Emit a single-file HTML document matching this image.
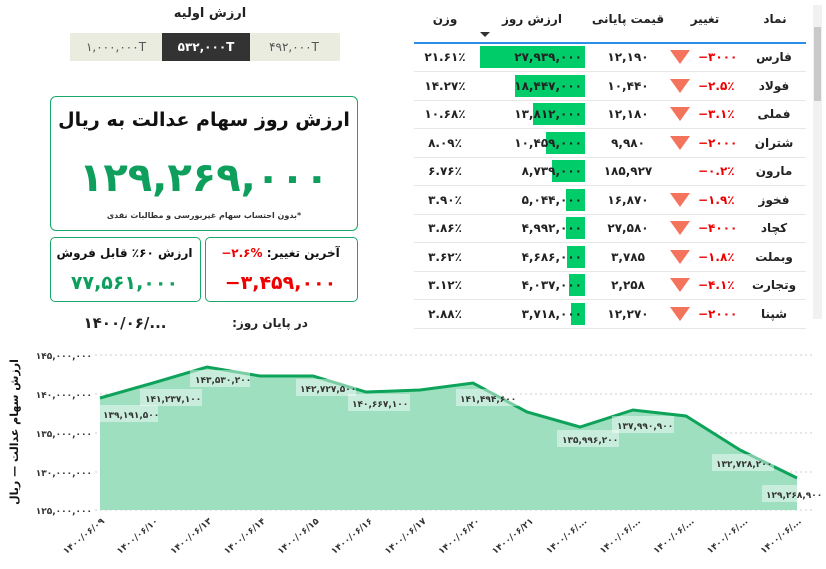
<!DOCTYPE html><html><head><meta charset="utf-8"><style>
body{margin:0;width:826px;height:569px;background:#fff;font-family:"DejaVu Sans","Liberation Sans",sans-serif;position:relative;overflow:hidden;direction:rtl}
.a{position:absolute}
.t{font-weight:bold;font-size:12px;color:#222;text-align:center;white-space:nowrap}
.row{position:absolute;left:414px;width:392px;height:28px;border-bottom:1px solid #e6e6e6;direction:ltr}
.row div{position:absolute;top:0;height:28px;line-height:28px;font-size:12px;font-weight:bold;text-align:center;color:#222}
.tri{width:0;height:0;border-left:10px solid transparent;border-right:10px solid transparent;border-top:14px solid #f4735d;position:absolute;top:7px!important;height:0!important}
svg{direction:ltr}
</style></head><body>
<div class="a t" style="left:160px;top:6px;width:100px;font-size:13px">ارزش اولیه</div>
<div class="a" style="left:70px;top:33px;width:270px;height:28px;background:#e9ecdf"></div>
<div class="a" style="left:162px;top:33px;width:88px;height:28px;background:#333;color:#fff;font-size:12px;font-weight:bold;line-height:28px;text-align:center">۵۳۲,۰۰۰T</div>
<div class="a" style="left:72px;top:33px;width:88px;line-height:28px;font-size:12px;color:#555;text-align:center">۱,۰۰۰,۰۰۰T</div>
<div class="a" style="left:250px;top:33px;width:88px;line-height:28px;font-size:12px;color:#555;text-align:center">۴۹۲,۰۰۰T</div>
<div class="a" style="left:50px;top:96px;width:306px;height:133px;border:1px solid #1aa86a;border-radius:6px"></div>
<div class="a t" style="left:50px;top:109px;width:308px;font-size:19px;color:#111">ارزش روز سهام عدالت به ریال</div>
<div class="a t" style="left:50px;top:148px;width:308px;font-size:40px;color:#0e9f5c;line-height:60px">۱۲۹,۲۶۹,۰۰۰</div>
<div class="a t" style="left:50px;top:211px;width:308px;font-size:8px;color:#333">*بدون احتساب سهام غیربورسی و مطالبات نقدی</div>
<div class="a" style="left:205px;top:237px;width:151px;height:63px;border:1px solid #1aa86a;border-radius:5px"></div>
<div class="a t" style="left:205px;top:246px;width:151px;font-size:12px;color:#111">آخرین تغییر: <span style="color:#e00">%۲.۶−</span></div>
<div class="a t" style="left:205px;top:272px;width:151px;font-size:19px;color:#e00">۳,۴۵۹,۰۰۰−</div>
<div class="a" style="left:50px;top:237px;width:149px;height:63px;border:1px solid #1aa86a;border-radius:5px"></div>
<div class="a t" style="left:50px;top:246px;width:149px;font-size:12px;color:#111">ارزش ۶۰٪ قابل فروش</div>
<div class="a t" style="left:50px;top:272px;width:149px;font-size:19px;color:#0e9f5c">۷۷,۵۶۱,۰۰۰</div>
<div class="a t" style="left:220px;top:316px;width:100px;font-size:12px">در پایان روز:</div>
<div class="a t" style="left:70px;top:314px;width:110px;font-size:15px;direction:ltr">۱۴۰۰/۰۶/...</div>

<div class="a" style="left:414px;top:0;width:392px;height:42px;border-bottom:2px solid #2a8ee8"></div>
<div class="a t" style="left:745px;top:12px;width:60px">نماد</div>
<div class="a t" style="left:670px;top:12px;width:70px">تغییر</div>
<div class="a t" style="left:588px;top:12px;width:80px">قیمت پایانی</div>
<div class="a t" style="left:478px;top:12px;width:108px">ارزش روز</div>
<div class="a t" style="left:415px;top:12px;width:60px">وزن</div>
<div class="a" style="left:480px;top:32px;border-left:5px solid transparent;border-right:5px solid transparent;border-top:5px solid #333"></div>
<div class="a" style="left:813px;top:5px;width:9px;height:314px;background:#f1f1f1"></div>
<div class="a" style="left:814px;top:27px;width:7px;height:74px;background:#c9c9c9"></div>

<div id="rows"></div>
<svg class="a" style="left:0;top:340px" width="826" height="229" viewBox="0 340 826 229">
<g stroke="#ccc" stroke-dasharray="2,3"><line x1="95" x2="815" y1="355" y2="355"/><line x1="95" x2="815" y1="394" y2="394"/><line x1="95" x2="815" y1="433" y2="433"/><line x1="95" x2="815" y1="472" y2="472"/><line x1="95" x2="815" y1="510" y2="510"/></g>
<g font-family="DejaVu Sans" font-size="9" font-weight="bold" fill="#333" text-anchor="end"><text x="92" y="359">۱۴۵,۰۰۰,۰۰۰</text><text x="92" y="398">۱۴۰,۰۰۰,۰۰۰</text><text x="92" y="437">۱۳۵,۰۰۰,۰۰۰</text><text x="92" y="476">۱۳۰,۰۰۰,۰۰۰</text><text x="92" y="514">۱۲۵,۰۰۰,۰۰۰</text></g>
<text transform="translate(18,432) rotate(-90)" text-anchor="middle" font-family="DejaVu Sans" font-size="11" font-weight="bold" fill="#111">ارزش سهام عدالت — ریال</text>
<polygon fill="#9ddfbf" points="100,398 153,383 207,367 260,376 313,376 366,392 420,390 473,383 527,412 580,427 633,410 686,416 740,450 797,478 797,510 100,510"/>
<polyline fill="none" stroke="#0ea35a" stroke-width="3" points="100,398 153,383 207,367 260,376 313,376 366,392 420,390 473,383 527,412 580,427 633,410 686,416 740,450 797,478"/>
<g font-family="DejaVu Sans" font-size="9" font-weight="bold" fill="#333">
<g fill="#fff" fill-opacity="0.45"><rect x="100" y="405" width="58" height="17"/><rect x="140" y="389" width="62" height="17"/><rect x="190" y="370" width="60" height="17"/><rect x="296" y="379" width="60" height="17"/><rect x="348" y="394" width="62" height="17"/><rect x="456" y="389" width="62" height="17"/><rect x="557" y="430" width="62" height="17"/><rect x="612" y="416" width="62" height="17"/><rect x="712" y="454" width="62" height="17"/><rect x="762" y="485" width="62" height="17"/></g>
<text x="103" y="418">۱۳۹,۱۹۱,۵۰۰</text><text x="145" y="402">۱۴۱,۲۳۷,۱۰۰</text><text x="195" y="383">۱۴۳,۵۳۰,۲۰۰</text><text x="300" y="392">۱۴۲,۷۲۷,۵۰۰</text><text x="352" y="407">۱۴۰,۶۶۷,۱۰۰</text><text x="460" y="402">۱۴۱,۴۹۴,۶۰۰</text><text x="562" y="443">۱۳۵,۹۹۶,۲۰۰</text><text x="617" y="429">۱۳۷,۹۹۰,۹۰۰</text><text x="716" y="467">۱۳۲,۷۲۸,۲۰۰</text><text x="766" y="498">۱۲۹,۲۶۸,۹۰۰</text></g>
<g font-family="DejaVu Sans" font-size="9" font-weight="bold" fill="#333" text-anchor="end" id="xl"></g>
</svg>
<script>
var d=[["فارس","−۳۰۰۰","۱۲,۱۹۰","۲۷,۹۳۹,۰۰۰","۲۱.۶۱٪",105,1],["فولاد","−۲.۵٪","۱۰,۴۴۰","۱۸,۴۴۷,۰۰۰","۱۴.۲۷٪",70,1],["فملی","−۳.۱٪","۱۲,۱۸۰","۱۳,۸۱۲,۰۰۰","۱۰.۶۸٪",52,1],["شتران","−۲۰۰۰","۹,۹۸۰","۱۰,۴۵۹,۰۰۰","۸.۰۹٪",39,1],["مارون","−۰.۲٪","۱۸۵,۹۲۷","۸,۷۳۹,۰۰۰","۶.۷۶٪",33,0],["فخوز","−۱.۹٪","۱۶,۸۷۰","۵,۰۴۴,۰۰۰","۳.۹۰٪",19,1],["کچاد","−۴۰۰۰","۲۷,۵۸۰","۴,۹۹۲,۰۰۰","۳.۸۶٪",19,1],["وبملت","−۱.۸٪","۳,۷۸۵","۴,۶۸۶,۰۰۰","۳.۶۲٪",18,1],["وتجارت","−۴.۱٪","۲,۲۵۸","۴,۰۳۷,۰۰۰","۳.۱۲٪",16,1],["شپنا","−۲۰۰۰","۱۲,۲۷۰","۳,۷۱۸,۰۰۰","۲.۸۸٪",14,1]];
var h="";d.forEach(function(r,i){var y=43+i*28.5;
h+='<div class="row" style="top:'+y+'px"><div style="left:330px;width:60px;direction:rtl">'+r[0]+'</div><div style="left:284px;width:46px;color:#e00;text-align:left">'+r[1]+'</div>'+(r[6]?'<div class="tri" style="left:256px"></div>':'')+'<div style="left:174px;width:80px">'+r[2]+'</div><div style="left:'+(171-r[5])+'px;width:'+r[5]+'px;background:#00cc6a;top:3px;height:22px"></div><div style="left:62px;width:108px;text-align:right;padding-right:2px;box-sizing:border-box">'+r[3]+'</div><div style="left:0;width:62px">'+r[4]+'</div></div>';});
document.getElementById("rows").innerHTML=h;
var l=["۱۴۰۰/۰۶/۰۹","۱۴۰۰/۰۶/۱۰","۱۴۰۰/۰۶/۱۳","۱۴۰۰/۰۶/۱۴","۱۴۰۰/۰۶/۱۵","۱۴۰۰/۰۶/۱۶","۱۴۰۰/۰۶/۱۷","۱۴۰۰/۰۶/۲۰","۱۴۰۰/۰۶/۲۱","۱۴۰۰/۰۶/...","۱۴۰۰/۰۶/...","۱۴۰۰/۰۶/...","۱۴۰۰/۰۶/...","۱۴۰۰/۰۶/..."],s="";
l.forEach(function(t,i){var x=105+i*53.6;s+='<text transform="translate('+x+',522) rotate(-40)">'+t+'</text>';});
document.getElementById("xl").innerHTML=s;
</script>
</body></html>
